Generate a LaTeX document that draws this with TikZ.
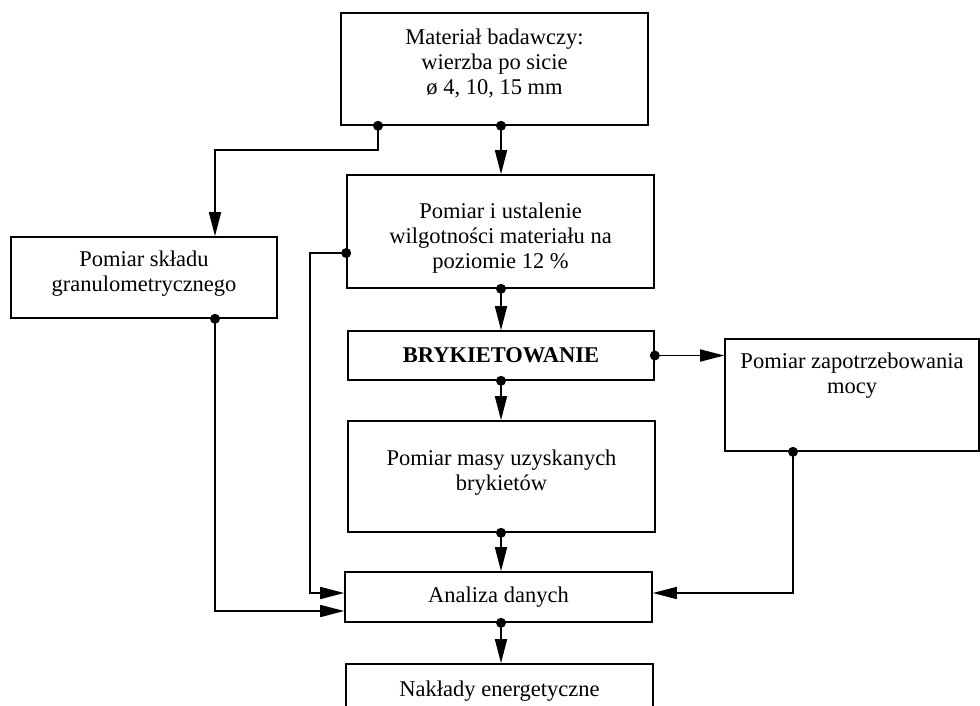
\documentclass[tikz,border=0pt]{standalone}
\usepackage{fontspec}
\setmainfont{Liberation Serif}
\usetikzlibrary{arrows.meta,calc}
\begin{document}
\begin{tikzpicture}[x=1pt,y=-1pt,
  box/.style={draw,line width=1.6pt,rectangle,inner sep=0pt},
  txt/.style={font=\fontsize{22.5}{25}\selectfont,align=center,inner sep=0pt},
  arr/.style={line width=1.6pt,-{Triangle[length=24pt,width=12pt]}},
  dotc/.style={fill=black}]
\useasboundingbox (0,0) rectangle (980,705);
\clip (0,0) rectangle (980,705);

\node[box,minimum width=307pt,minimum height=112pt] (b1) at (494.5,69) {};
\node[txt] (t1) at (494.5,63) {Materiał badawczy:\\wierzba po sicie\\ø 4, 10, 15 mm};
\node[box,minimum width=307pt,minimum height=113pt] (b2) at (500.5,231.5) {};
\node[txt] (t2) at (500.5,238) {Pomiar i ustalenie\\wilgotności materiału na\\poziomie 12 \%};
\node[box,minimum width=266pt,minimum height=81pt] (b3) at (144,277.5) {};
\node[txt] (t3) at (144,274) {Pomiar składu\\granulometrycznego};
\node[box,minimum width=306pt,minimum height=49pt] (b4) at (501,355.5) {};
\node[txt,font=\fontsize{22.5}{25}\selectfont\bfseries] (t4) at (501,355) {BRYKIETOWANIE};
\node[box,minimum width=254pt,minimum height=112pt] (b5) at (852,395) {};
\node[txt] (t5) at (852,375.5) {Pomiar zapotrzebowania\\mocy};
\node[box,minimum width=307pt,minimum height=111pt] (b6) at (501.5,476.5) {};
\node[txt] (t6) at (501.5,473) {Pomiar masy uzyskanych\\brykietów};
\node[box,minimum width=307pt,minimum height=50pt] (b7) at (498.5,597) {};
\node[txt] (t7) at (498.5,597) {Analiza danych};
\node[box,minimum width=307pt,minimum height=80pt] (b8) at (499.5,704) {};
\node[txt] (t8) at (499.5,691) {Nakłady energetyczne};

\coordinate (xs) at (501,0);
\coordinate (xa) at (378,0);
\coordinate (xl) at (215,0);
\coordinate (xr) at (793,0);
\coordinate (yb2) at (0,253);
\coordinate (yup) at (0,593);
\coordinate (ylo) at (0,611);
\coordinate (k1) at (378,150);
\coordinate (k2) at (310,253);

\draw[arr] (b1.south -| xs) -- (b2.north -| xs);
\draw[arr] (b1.south -| xa) -- (k1) -| (b3.north -| xl);
\draw[arr] (b2.west |- yb2) -- (k2) |- (b7.west |- yup);
\draw[arr] (b3.south -| xl) |- (b7.west |- ylo);
\draw[arr] (b2.south -| xs) -- (b4.north -| xs);
\draw[arr] (b4.east) -- (b5.west |- b4.east);
\draw[arr] (b4.south -| xs) -- (b6.north -| xs);
\draw[arr] (b5.south -| xr) |- (b7.east |- yup);
\draw[arr] (b6.south -| xs) -- (b7.north -| xs);
\draw[arr] (b7.south -| xs) -- (b8.north -| xs);

\fill[dotc] (b1.south -| xs) circle (5pt);
\fill[dotc] (b1.south -| xa) circle (5pt);
\fill[dotc] (b2.west |- yb2) circle (5pt);
\fill[dotc] (b3.south -| xl) circle (5pt);
\fill[dotc] (b2.south -| xs) circle (5pt);
\fill[dotc] (b4.east) circle (5pt);
\fill[dotc] (b4.south -| xs) circle (5pt);
\fill[dotc] (b5.south -| xr) circle (5pt);
\fill[dotc] (b6.south -| xs) circle (5pt);
\fill[dotc] (b7.south -| xs) circle (5pt);
\end{tikzpicture}
\end{document}
